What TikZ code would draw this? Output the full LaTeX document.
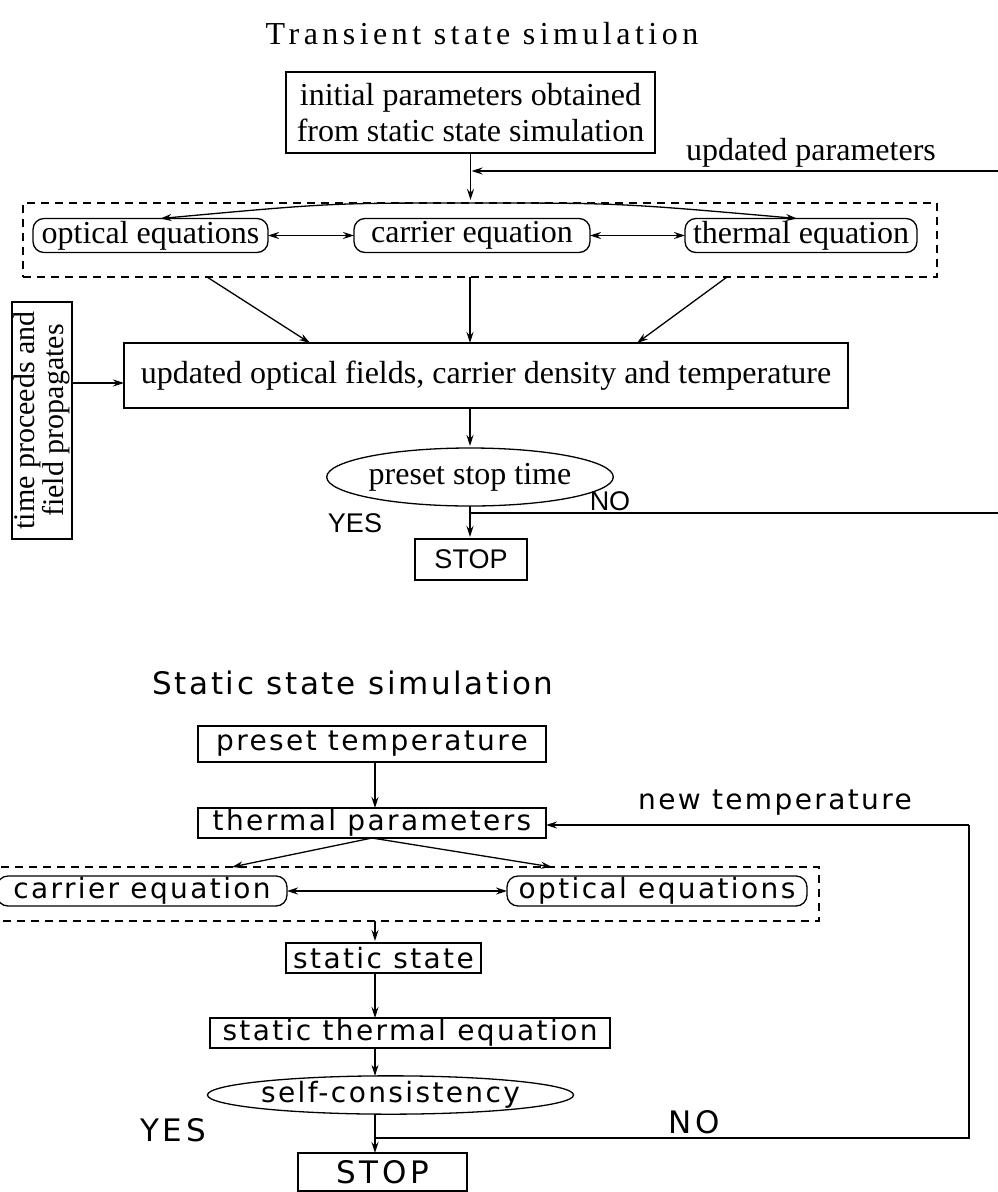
\documentclass[tikz,border=0pt]{standalone}
\usepackage{fontspec}
\setmainfont{Liberation Serif}
\newfontfamily\titlefont[LetterSpace=14]{Liberation Serif}
\newfontfamily\sansf{Liberation Sans}
\newfontfamily\widef[LetterSpace=8.5]{DejaVu Sans}
\newfontfamily\widelab[LetterSpace=12]{DejaVu Sans}
\usetikzlibrary{arrows.meta,shapes.geometric,calc}
\begin{document}
\begin{tikzpicture}[x=1pt,y=-1pt,
  every node/.style={inner sep=0pt,outer sep=0pt},
  box/.style={draw,line width=1.3pt,align=center},
  rbox/.style={draw,line width=1.3pt,rounded corners=11pt},
  dbox/.style={draw,line width=1.2pt,dash pattern=on 8pt off 6pt},
  ell/.style={draw,line width=1.3pt,ellipse},
  body/.style={font=\fontsize{32}{36}\selectfont},
  bodyB/.style={font=\widef\fontsize{28}{32}\selectfont},
  lab/.style={font=\sansf\fontsize{27}{30}\selectfont},
  labB/.style={font=\widelab\fontsize{31}{32}\selectfont},
  conn/.style={line width=1.3pt},
  arr/.style={conn,-{Stealth[length=11pt,width=7pt]}},
  darr/.style={conn,{Stealth[length=11pt,width=7pt]}-{Stealth[length=11pt,width=7pt]}}]
\useasboundingbox (0,0) rectangle (998,1192);
\fill[white] (0,0) rectangle (998,1192);

% ---------------- Transient state simulation ----------------
\node[font=\titlefont\fontsize{32}{36}\selectfont] (title1) at (482,34) {Transient state simulation};
\node[box,body,minimum width=369pt,minimum height=81pt] (init) at (470.5,112.5) {initial parameters obtained\\from static state simulation};
\node[body] (updlab) at (811,153) {updated parameters};
\node[dbox,minimum width=914pt,minimum height=74pt] (grp1) at (480,240) {};
\node[rbox,body,minimum width=235pt,minimum height=34pt] (opt1) at (150.5,235.5) {optical equations};
\node[rbox,body,minimum width=236pt,minimum height=34pt] (car1) at (472,235.5) {carrier equation};
\node[rbox,body,minimum width=232pt,minimum height=34pt] (the1) at (801,235.5) {thermal equation};
\node[box,body,minimum width=724pt,minimum height=65pt] (upd) at (486,375.5) {updated optical fields, carrier density and temperature};
\node[box,minimum width=237pt,minimum height=60pt,rotate=90,font=\fontsize{30}{26}\selectfont,align=center] (tbox) at (42,420.5) {time proceeds and\\field propagates};
\node[ell,body,minimum width=234pt,minimum height=58pt] (pst) at (470,477) {preset stop time};
\node[box,lab,minimum width=112pt,minimum height=41pt] (stop1) at (471,559.5) {STOP};
\node[lab] (yes1) at (355,523) {YES};
\node[lab] (no1) at (610,501) {NO};

\coordinate (ax1) at (470,0);
\coordinate (updR) at (998,171);
\coordinate (noR1) at (998,513);
\coordinate (gA) at (207,277);
\coordinate (gC) at (727,277);
\coordinate (tA) at (310,343);
\coordinate (tC) at (637,343);
\coordinate (tboxR) at (72,383);

\draw[arr,shorten >=3pt] (init.south) -- (grp1.north -| init.south);
\draw[arr,shorten >=1pt] (updR) -- (updR -| init.south);
\draw[arr] (grp1.north -| init.south) .. controls (330,203) .. ([xshift=10pt]opt1.north);
\draw[arr] (grp1.north -| init.south) .. controls (620,203) .. ([xshift=-4pt]the1.north);
\draw[darr] (opt1.east) -- (car1.west);
\draw[darr] (car1.east) -- (the1.west);
\draw[arr] (gA) -- (tA);
\draw[arr] (grp1.south -| ax1) -- (upd.north -| ax1);
\draw[arr] (gC) -- (tC);
\draw[arr] (tboxR) -- (upd.west |- tboxR);
\draw[arr,shorten >=2pt] (upd.south -| ax1) -- (pst.north);
\draw[arr,shorten >=2pt] (pst.south) -- (stop1.north -| pst.south);
\draw[conn] (pst.south |- noR1) -- (noR1);

% ---------------- Static state simulation ----------------
\node[font=\widef\fontsize{31}{34}\selectfont] (title2) at (353,683) {Static state simulation};
\node[box,bodyB,minimum width=348pt,minimum height=36pt] (ptemp) at (372,744) {preset temperature};
\node[box,bodyB,minimum width=348pt,minimum height=30pt] (tpar) at (372,823) {thermal parameters};
\node[bodyB] (ntlab) at (775,803) {new temperature};
\node[dbox,minimum width=830pt,minimum height=54pt] (grp2) at (404,894) {};
\node[rbox,bodyB,minimum width=290pt,minimum height=30pt] (car2) at (142,891) {carrier equation};
\node[rbox,bodyB,minimum width=300pt,minimum height=30pt] (opt2) at (657,891) {optical equations};
\node[box,bodyB,minimum width=195pt,minimum height=30pt] (sst) at (383.5,958) {static state};
\node[box,bodyB,minimum width=400pt,minimum height=30pt] (sth) at (410,1033) {static thermal equation};
\node[ell,bodyB,minimum width=335pt,minimum height=30pt] (scons) at (390.5,1095) {self-consistency};
\node[box,labB,minimum width=169pt,minimum height=38pt] (stop2) at (382.5,1172) {STOP};
\node[labB] (yes2) at (173,1130) {YES};
\node[labB] (no2) at (694,1122) {NO};

\coordinate (ax2) at (375,0);
\coordinate (noR2) at (969,1138);
\coordinate (ntR) at (969,825);
\coordinate (cA) at (232,867);
\coordinate (cB) at (552,867);

\draw[arr] (tpar.south) -- (cA);
\draw[arr] (tpar.south) -- (cB);
\draw[arr] (ptemp.south -| ax2) -- (tpar.north -| ax2);
\draw[darr] (car2.east) -- (opt2.west);
\draw[arr,shorten >=2pt] (grp2.south -| ax2) -- (sst.north -| ax2);
\draw[arr] (sst.south -| ax2) -- (sth.north -| ax2);
\draw[arr] (sth.south -| ax2) -- (scons.north -| ax2);
\draw[arr] (scons.south -| ax2) -- (stop2.north -| ax2);
\draw[conn] (ax2 |- noR2) -- (noR2) -- (ntR);
\draw[arr] (ntR) -- (tpar.east |- ntR);
\end{tikzpicture}
\end{document}
